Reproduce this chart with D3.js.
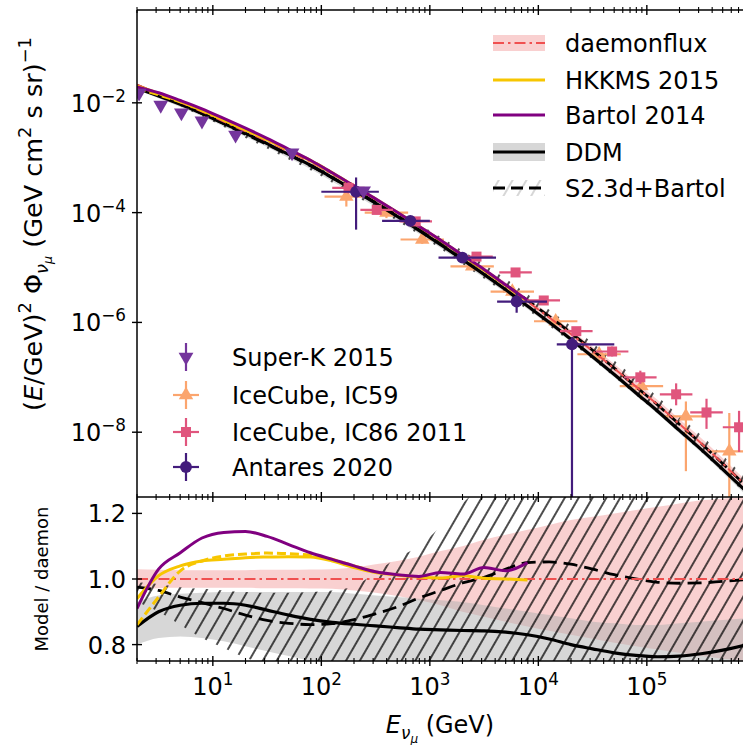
<!DOCTYPE html>
<html><head><meta charset="utf-8">
<script src="https://cdn.jsdelivr.net/npm/d3@7"></script>
<style>body{margin:0;background:#fff;} svg{display:block;font-family:"DejaVu Sans",sans-serif;}</style>
</head><body>
<svg id="chart" width="743" height="745"></svg>
<script>
// ---------------- data ----------------
const energyGrid = [2.0, 3.16, 5.01, 7.94, 12.6, 20.0, 31.6, 50.1, 79.4, 126, 200, 316, 501, 794, 1259, 1995, 3162, 5012, 7943, 12590, 19950, 31620, 50120, 79430, 125900, 199500, 316200, 501200, 794300];
const daemonFlux = [2.14e-2, 1.48e-2, 1.02e-2, 6.92e-3, 4.57e-3, 3.02e-3, 2.00e-3, 1.29e-3, 8.32e-4, 5.01e-4, 2.95e-4, 1.74e-4, 1.00e-4, 5.62e-5, 3.09e-5, 1.66e-5, 8.91e-6, 4.68e-6, 2.40e-6, 1.23e-6, 6.17e-7, 3.02e-7, 1.45e-7, 6.76e-8, 3.16e-8, 1.41e-8, 6.31e-9, 2.69e-9, 1.12e-9];
const daemonHi = [1.03, 1.028, 1.027, 1.027, 1.027, 1.027, 1.028, 1.028, 1.029, 1.03, 1.035, 1.045, 1.055, 1.068, 1.085, 1.10, 1.12, 1.135, 1.15, 1.165, 1.18, 1.19, 1.20, 1.21, 1.22, 1.23, 1.24, 1.245, 1.25];
const daemonLo = [0.97, 0.972, 0.973, 0.973, 0.973, 0.973, 0.972, 0.972, 0.971, 0.97, 0.965, 0.958, 0.948, 0.935, 0.92, 0.90, 0.885, 0.87, 0.855, 0.842, 0.83, 0.818, 0.806, 0.795, 0.785, 0.775, 0.765, 0.757, 0.75];
const ddmRatio = [0.855, 0.9, 0.92, 0.926, 0.926, 0.92, 0.905, 0.89, 0.877, 0.868, 0.862, 0.857, 0.852, 0.847, 0.845, 0.843, 0.842, 0.838, 0.83, 0.817, 0.80, 0.787, 0.775, 0.767, 0.763, 0.765, 0.772, 0.783, 0.798];
const ddmHi = [0.93, 0.95, 0.955, 0.958, 0.96, 0.96, 0.96, 0.96, 0.96, 0.96, 0.955, 0.95, 0.945, 0.94, 0.935, 0.93, 0.92, 0.91, 0.90, 0.89, 0.88, 0.87, 0.865, 0.86, 0.86, 0.865, 0.87, 0.875, 0.88];
const ddmLo = [0.8, 0.82, 0.825, 0.82, 0.81, 0.795, 0.78, 0.765, 0.75, 0.74, 0.735, 0.73, 0.73, 0.73, 0.73, 0.73, 0.73, 0.73, 0.73, 0.72, 0.71, 0.7, 0.69, 0.68, 0.68, 0.68, 0.68, 0.68, 0.68];
const s23dRatio = [0.975, 0.965, 0.945, 0.928, 0.91, 0.89, 0.874, 0.865, 0.861, 0.864, 0.876, 0.894, 0.915, 0.942, 0.965, 0.988, 1.005, 1.03, 1.05, 1.052, 1.045, 1.03, 1.013, 1.0, 0.99, 0.987, 0.988, 0.993, 0.998];
const s23dHi = [0.99, 0.985, 0.975, 0.97, 0.965, 0.96, 0.958, 0.958, 0.96, 0.965, 0.978, 1.02, 1.065, 1.10, 1.16, 1.23, 1.29, 1.33, 1.36, 1.38, 1.39, 1.40, 1.40, 1.40, 1.40, 1.40, 1.40, 1.40, 1.40];
const s23dLo = [0.93, 0.9, 0.86, 0.82, 0.79, 0.76, 0.74, 0.72, 0.71, 0.70, 0.70, 0.70, 0.70, 0.70, 0.70, 0.70, 0.70, 0.70, 0.70, 0.70, 0.70, 0.70, 0.70, 0.70, 0.70, 0.70, 0.70, 0.70, 0.70];
const hkkmsRatio = [0.94, 1.01, 1.04, 1.055, 1.06, 1.065, 1.067, 1.068, 1.067, 1.055, 1.035, 1.02, 1.012, 1.006, 1.003, 1.01, 1.002, 1.0, 0.997];
const hkkmsAltRatio = [0.86, 0.945, 1.025, 1.055, 1.07, 1.076, 1.079, 1.077, 1.072, 1.06, 1.04, 1.022];
const bartolRatio = [0.91, 1.03, 1.08, 1.125, 1.142, 1.145, 1.13, 1.105, 1.08, 1.06, 1.04, 1.022, 1.013, 1.008, 1.02, 1.015, 1.035, 1.025, 1.05];

// measurements
const superKE = [2.09, 3.31, 5.13, 7.94, 16.2, 53.7, 245];
const superKFlux = [1.51e-2, 9.1e-3, 6.6e-3, 4.7e-3, 2.6e-3, 1.23e-3, 2.5e-4];
const superKFluxLo = [1.40e-2, 8.4e-3, 6.1e-3, 4.35e-3, 2.4e-3, 1.13e-3, 2.2e-4];
const superKFluxHi = [1.62e-2, 9.8e-3, 7.1e-3, 5.05e-3, 2.8e-3, 1.33e-3, 2.8e-4];

const ic59E = [170, 398, 851, 2455, 5754, 14450, 36310, 89130, 229100, 575400];
const ic59ELo = [107, 251, 537, 1549, 3631, 9120, 22910, 56230, 144500, 363100];
const ic59EHi = [269, 631, 1349, 3890, 9120, 22910, 57540, 141300, 363100, 912000];
const ic59Flux = [1.95e-4, 1.0e-4, 3.24e-5, 1.05e-5, 3.63e-6, 1.05e-6, 2.63e-7, 6.92e-8, 1.95e-8, 4.47e-9];
const ic59FluxHi = [3.63e-4, 1.26e-4, 3.89e-5, 1.20e-5, 4.17e-6, 1.23e-6, 3.47e-7, 1.05e-7, 3.63e-8, 2.24e-8];
const ic59FluxLo = [1.29e-4, 7.94e-5, 2.69e-5, 9.12e-6, 3.16e-6, 8.91e-7, 1.86e-7, 3.89e-8, 1.95e-9, 1.41e-10];

const ic86E = [178, 324, 741, 2692, 6166, 11220, 22390, 47860, 87100, 186200, 354800, 707900];
const ic86ELo = [126, 229, 525, 1905, 4365, 7943, 15850, 33880, 61660, 131800, 251200, 501200];
const ic86EHi = [251, 457, 1047, 3802, 8710, 15850, 31620, 67610, 123000, 263000, 501200, 1000000];
const ic86Flux = [2.82e-4, 1.12e-4, 6.92e-5, 1.58e-5, 8.13e-6, 2.51e-6, 6.92e-7, 2.95e-7, 1.0e-7, 4.90e-8, 2.29e-8, 1.23e-8];
const ic86FluxHi = [3.55e-4, 1.35e-4, 7.94e-5, 1.82e-5, 9.33e-6, 2.88e-6, 8.13e-7, 3.63e-7, 1.32e-7, 7.76e-8, 4.07e-8, 2.45e-8];
const ic86FluxLo = [2.24e-4, 9.33e-5, 6.03e-5, 1.38e-5, 7.08e-6, 2.19e-6, 5.89e-7, 2.40e-7, 7.59e-8, 3.09e-8, 1.15e-8, 4.37e-9];

const antaresE = [209, 661, 1995, 6310, 20420];
const antaresELo = [100, 363, 1202, 4169, 14790];
const antaresEHi = [339, 1000, 4074, 12020, 50120];
const antaresFlux = [2.40e-4, 7.08e-5, 1.51e-5, 2.40e-6, 3.98e-7];
const antaresFluxHi = [4.37e-4, 8.5e-5, 1.8e-5, 3.5e-6, 5.4e-7];
const antaresFluxLo = [4.9e-5, 5.9e-5, 1.25e-5, 1.5e-6, 1e-12];

const xTickValues = [10, 100, 1e3, 1e4, 1e5, 1e6];
const xTickExps = ["1", "2", "3", "4", "5", "6"];
const yTopTickValues = [1e-2, 1e-4, 1e-6, 1e-8];
const yTopTickExps = ["\u22122", "\u22124", "\u22126", "\u22128"];
const yBotTickValues = [0.8, 1.0, 1.2];
const yBotTickLabels = ["0.8", "1.0", "1.2"];

const modelNames = ["daemonflux", "HKKMS 2015", "Bartol 2014", "DDM", "S2.3d+Bartol"];
const dataNames = ["Super-K 2015", "IceCube, IC59", "IceCube, IC86 2011", "Antares 2020"];

// ---------------- styles ----------------
const C = {
  red: "#f05050", pink: "#ee7777", gray: "#b0b0b0",
  yellow: "#f7c600", purple: "#800080",
  superK: "#74359c", ic59: "#fba56e", ic86: "#e0557d", antares: "#431c7c"
};

const svg = d3.select("#chart");
const xL = 137, xR = 137 + 108.5 * Math.log10(5e5);
const x = d3.scaleLog().domain([2, 1e6]).range([xL, xR]);
const P1 = {t: 10, b: 497}, P2 = {t: 497, b: 661};
const yT = d3.scaleLog().domain([6.6e-10, 0.491]).range([P1.b, P1.t]);
const yB = d3.scaleLinear().domain([0.75, 1.25]).range([P2.b, P2.t]);

const defs = svg.append("defs");
defs.append("clipPath").attr("id", "clipT").append("rect").attr("x", xL).attr("y", P1.t).attr("width", xR - xL).attr("height", P1.b - P1.t);
defs.append("clipPath").attr("id", "clipB").append("rect").attr("x", xL).attr("y", P2.t).attr("width", xR - xL).attr("height", P2.b - P2.t);
function hatch(id, color, w) {
  const p = defs.append("pattern").attr("id", id).attr("patternUnits", "userSpaceOnUse")
    .attr("width", 12).attr("height", 12).attr("patternTransform", "rotate(30)");
  p.append("line").attr("x1", 6).attr("y1", -1).attr("x2", 6).attr("y2", 13).attr("stroke", color).attr("stroke-width", w);
}
hatch("hatch", "#000", 1.4);
hatch("hatchL", "#bbb", 1.2);

const gT = svg.append("g").attr("clip-path", "url(#clipT)");
const gB = svg.append("g").attr("clip-path", "url(#clipB)");

const grid = energyGrid.map((e, i) => ({e, i}));
function areaGen(y) { return d3.area().x(d => x(d.e)).y0(d => y(d.lo)).y1(d => y(d.hi)).curve(d3.curveMonotoneX); }
function lineGen(y) { return d3.line().x(d => x(d.e)).y(d => y(d.v)).curve(d3.curveMonotoneX); }

const bands = [
  {hi: daemonHi, lo: daemonLo, fill: C.pink, op: 0.35},
  {hi: ddmHi, lo: ddmLo, fill: C.gray, op: 0.5},
  {hi: s23dHi, lo: s23dLo, fill: "url(#hatch)", op: 1}
];
const lines = [
  {r: ddmRatio, color: "#000", w: 3.2, dash: null},
  {r: s23dRatio, color: "#000", w: 2.8, dash: "14,7"},
  {r: daemonHi.map(() => 1), color: C.red, w: 2, dash: "11,4,2.5,4"},
  {r: hkkmsAltRatio, color: C.yellow, w: 3, dash: "9,4"},
  {r: hkkmsRatio, color: C.yellow, w: 3, dash: null},
  {r: bartolRatio, color: C.purple, w: 3, dash: null}
];

bands.forEach(b => {
  const d = grid.map(g => ({e: g.e, lo: daemonFlux[g.i] * b.lo[g.i], hi: daemonFlux[g.i] * b.hi[g.i]}));
  gT.append("path").attr("d", areaGen(yT)(d)).attr("fill", b.fill).attr("fill-opacity", b.op);
});
bands.forEach(b => {
  const d = grid.map(g => ({e: g.e, lo: b.lo[g.i], hi: b.hi[g.i]}));
  gB.append("path").attr("d", areaGen(yB)(d)).attr("fill", b.fill).attr("fill-opacity", b.op);
});

function errorSet(E, ELo, EHi, F, FLo, FHi, color, sym, size, rot) {
  const g = gT.append("g");
  E.forEach((e, i) => {
    if (ELo) g.append("line").attr("x1", x(ELo[i])).attr("x2", x(EHi[i])).attr("y1", yT(F[i])).attr("y2", yT(F[i])).attr("stroke", color).attr("stroke-width", 2.2);
    g.append("line").attr("x1", x(e)).attr("x2", x(e)).attr("y1", yT(FLo[i])).attr("y2", yT(FHi[i])).attr("stroke", color).attr("stroke-width", 2.2);
    g.append("path").attr("d", d3.symbol().type(sym).size(size)()).attr("transform", `translate(${x(e)},${yT(F[i])}) rotate(${rot})`).attr("fill", color);
  });
}
errorSet(ic59E, ic59ELo, ic59EHi, ic59Flux, ic59FluxLo, ic59FluxHi, C.ic59, d3.symbolTriangle, 90, 0);

lines.forEach(l => {
  const d = l.r.map((v, i) => ({e: energyGrid[i], v: daemonFlux[i] * v}));
  const p = gT.append("path").attr("d", lineGen(yT)(d)).attr("fill", "none").attr("stroke", l.color).attr("stroke-width", l.w);
  if (l.dash) p.attr("stroke-dasharray", l.dash);
});
errorSet(ic86E, ic86ELo, ic86EHi, ic86Flux, ic86FluxLo, ic86FluxHi, C.ic86, d3.symbolSquare, 100, 0);
errorSet(antaresE, antaresELo, antaresEHi, antaresFlux, antaresFluxLo, antaresFluxHi, C.antares, d3.symbolCircle, 110, 0);
errorSet(superKE, null, null, superKFlux, superKFluxLo, superKFluxHi, C.superK, d3.symbolTriangle, 95, 180);

lines.forEach(l => {
  const d = l.r.map((v, i) => ({e: energyGrid[i], v}));
  const p = gB.append("path").attr("d", lineGen(yB)(d)).attr("fill", "none").attr("stroke", l.color).attr("stroke-width", l.w);
  if (l.dash) p.attr("stroke-dasharray", l.dash);
});

// ---------------- axes ----------------
const ax = svg.append("g");
const minorX = [];
for (let p = 0; p <= 5; p++) for (let k = 2; k <= 9; k++) { const v = k * Math.pow(10, p); if (v >= 2 && v < 1e6) minorX.push(v); }
function xTicks(yy) {
  minorX.forEach(v => ax.append("line").attr("x1", x(v)).attr("x2", x(v)).attr("y1", yy - 3).attr("y2", yy + 3).attr("stroke", "#000").attr("stroke-width", 1.1));
  xTickValues.forEach(v => ax.append("line").attr("x1", x(v)).attr("x2", x(v)).attr("y1", yy - 5).attr("y2", yy + 5).attr("stroke", "#000").attr("stroke-width", 1.4));
}
[P1.t, P1.b, P2.b].forEach(xTicks);
ax.append("line").attr("x1", xL).attr("x2", 743).attr("y1", P1.t).attr("y2", P1.t).attr("stroke", "#000").attr("stroke-width", 1.5);
ax.append("line").attr("x1", xL).attr("x2", 743).attr("y1", P1.b).attr("y2", P1.b).attr("stroke", "#000").attr("stroke-width", 1.5);
ax.append("line").attr("x1", xL).attr("x2", 743).attr("y1", P2.b).attr("y2", P2.b).attr("stroke", "#000").attr("stroke-width", 1.5);
ax.append("line").attr("x1", xL).attr("x2", xL).attr("y1", P1.t).attr("y2", P2.b).attr("stroke", "#000").attr("stroke-width", 1.5);
yTopTickValues.forEach(v => ax.append("line").attr("x1", xL - 5).attr("x2", xL + 5).attr("y1", yT(v)).attr("y2", yT(v)).attr("stroke", "#000").attr("stroke-width", 1.4));
yBotTickValues.forEach(v => ax.append("line").attr("x1", xL - 5).attr("x2", xL + 5).attr("y1", yB(v)).attr("y2", yB(v)).attr("stroke", "#000").attr("stroke-width", 1.4));

const FS = 24;
xTickValues.forEach((v, i) => {
  if (x(v) > 743) return;
  const t = ax.append("text").attr("x", x(v)).attr("y", 695).attr("text-anchor", "middle").attr("font-size", FS);
  t.append("tspan").text("10");
  t.append("tspan").attr("dy", -10).attr("font-size", FS * 0.7).text(xTickExps[i]);
});
yTopTickValues.forEach((v, i) => {
  const t = ax.append("text").attr("x", 126).attr("y", yT(v) + 9).attr("text-anchor", "end").attr("font-size", FS);
  t.append("tspan").text("10");
  t.append("tspan").attr("dy", -10).attr("font-size", FS * 0.7).text(yTopTickExps[i]);
});
yBotTickValues.forEach((v, i) => {
  ax.append("text").attr("x", 126).attr("y", yB(v) + 9).attr("text-anchor", "end").attr("font-size", FS).text(yBotTickLabels[i]);
});

const xt = ax.append("text").attr("x", 440).attr("y", 733).attr("text-anchor", "middle").attr("font-size", FS);
xt.append("tspan").attr("font-style", "italic").text("E");
xt.append("tspan").attr("dy", 6).attr("font-size", FS * 0.7).attr("font-style", "italic").text("\u03bd");
xt.append("tspan").attr("dy", 4).attr("font-size", FS * 0.5).attr("font-style", "italic").text("\u03bc");
xt.append("tspan").attr("dy", -10).text(" (GeV)");

const YFS = 25.5;
const yt = ax.append("text").attr("transform", "translate(42,224) rotate(-90)").attr("text-anchor", "middle").attr("font-size", YFS);
yt.append("tspan").text("(");
yt.append("tspan").attr("font-style", "italic").text("E");
yt.append("tspan").text("/GeV)");
yt.append("tspan").attr("dy", -11).attr("font-size", YFS * 0.7).text("2");
yt.append("tspan").attr("dy", 11).text(" \u03a6");
yt.append("tspan").attr("dy", 6).attr("font-size", YFS * 0.7).attr("font-style", "italic").text("\u03bd");
yt.append("tspan").attr("dy", 4).attr("font-size", YFS * 0.5).attr("font-style", "italic").text("\u03bc");
yt.append("tspan").attr("dy", -10).text(" (GeV cm");
yt.append("tspan").attr("dy", -11).attr("font-size", YFS * 0.7).text("2");
yt.append("tspan").attr("dy", 11).text(" s sr)");
yt.append("tspan").attr("dy", -11).attr("font-size", YFS * 0.7).text("\u22121");

ax.append("text").attr("transform", "translate(48,579) rotate(-90)").attr("text-anchor", "middle").attr("font-size", 18).text("Model / daemon");

// ---------------- legends ----------------
const lg = svg.append("g");
const rowsA = [43, 80, 115, 152, 188];
const lx0 = 493, lx1 = 545, tx = 565;
lg.append("rect").attr("x", lx0).attr("y", rowsA[0] - 8).attr("width", lx1 - lx0).attr("height", 16).attr("fill", C.pink).attr("fill-opacity", 0.35);
lg.append("rect").attr("x", lx0).attr("y", rowsA[3] - 9).attr("width", lx1 - lx0).attr("height", 18).attr("fill", C.gray).attr("fill-opacity", 0.5);
lg.append("rect").attr("x", lx0).attr("y", rowsA[4] - 8).attr("width", lx1 - lx0).attr("height", 16).attr("fill", "url(#hatchL)");
const legStyles = [
  {color: C.red, w: 2.2, dash: "11,4,2.5,4"},
  {color: C.yellow, w: 3, dash: null},
  {color: C.purple, w: 3, dash: null},
  {color: "#000", w: 3.2, dash: null},
  {color: "#000", w: 3, dash: "12,6"}
];
modelNames.forEach((n, i) => {
  const l = lg.append("line").attr("x1", lx0).attr("x2", lx1).attr("y1", rowsA[i]).attr("y2", rowsA[i]).attr("stroke", legStyles[i].color).attr("stroke-width", legStyles[i].w);
  if (legStyles[i].dash) l.attr("stroke-dasharray", legStyles[i].dash);
  lg.append("text").attr("x", tx).attr("y", rowsA[i] + 8.5).attr("font-size", FS).text(n);
});
const rowsB = [357, 395, 432, 467];
const mx = 186;
const dataStyles = [
  {c: C.superK, sym: d3.symbolTriangle, s: 95, rot: 180, h: false},
  {c: C.ic59, sym: d3.symbolTriangle, s: 90, rot: 0, h: true},
  {c: C.ic86, sym: d3.symbolSquare, s: 100, rot: 0, h: true},
  {c: C.antares, sym: d3.symbolCircle, s: 110, rot: 0, h: true}
];
dataNames.forEach((n, i) => {
  const st = dataStyles[i], yy = rowsB[i];
  lg.append("line").attr("x1", mx).attr("x2", mx).attr("y1", yy - 14).attr("y2", yy + 14).attr("stroke", st.c).attr("stroke-width", 2.2);
  if (st.h) lg.append("line").attr("x1", mx - 13).attr("x2", mx + 13).attr("y1", yy).attr("y2", yy).attr("stroke", st.c).attr("stroke-width", 2.2);
  lg.append("path").attr("d", d3.symbol().type(st.sym).size(st.s)()).attr("transform", `translate(${mx},${yy}) rotate(${st.rot})`).attr("fill", st.c);
  lg.append("text").attr("x", 232).attr("y", yy + 8.5).attr("font-size", FS).text(n);
});
</script>
</body></html>
